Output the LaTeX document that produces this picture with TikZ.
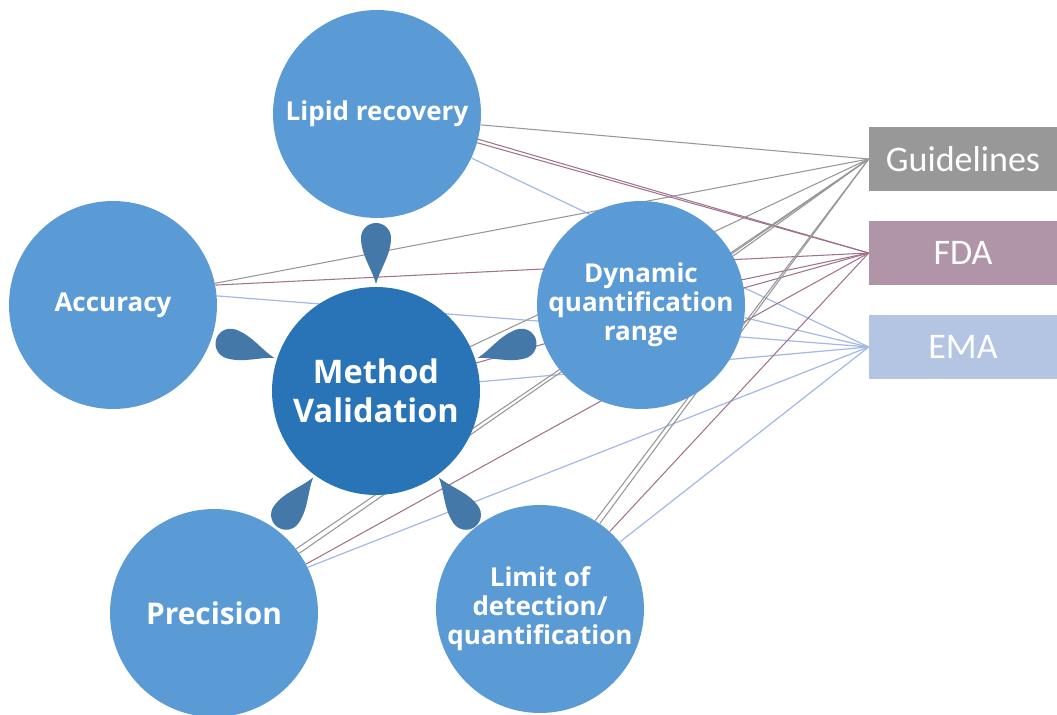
\documentclass[tikz,border=0pt]{standalone}
\usepackage{fontspec}
\setmainfont{Open Sans}
\newfontfamily\tagfont{Carlito}
\definecolor{bubbleblue}{RGB}{91,155,213}
\definecolor{hubblue}{RGB}{40,116,182}
\definecolor{petalblue}{RGB}{68,120,168}
\definecolor{guidegray}{RGB}{152,152,152}
\definecolor{fdamauve}{RGB}{176,148,167}
\definecolor{emablue}{RGB}{180,197,228}
\definecolor{guideline}{RGB}{150,150,150}
\definecolor{fdaline}{RGB}{160,115,140}
\definecolor{emaline}{RGB}{165,185,228}
\pgfdeclarelayer{bg}
\pgfsetlayers{bg,main}
\begin{document}
\begin{tikzpicture}[
            x=0.02cm, y=-0.02cm,
            bubble/.style = {circle, fill=bubbleblue, minimum size=4.16cm, inner sep=0pt, align=center, text=white, font=\fontsize{14.8}{16.6}\selectfont\bfseries},
            hub/.style    = {bubble, fill=hubblue, font=\fontsize{18.5}{22}\selectfont\bfseries},
            tag/.style    = {minimum width=3.76cm, minimum height=1.28cm, inner sep=0pt, text=white, font=\tagfont\fontsize{20.5}{24}\selectfont},
            toguide/.style = {draw=guideline, line width=0.6pt},
            tofda/.style   = {draw=fdaline, line width=0.6pt},
            toema/.style   = {draw=emaline, line width=0.7pt},
        ]
            \useasboundingbox (0,0) rectangle (1057,715);

            \node[hub] (mv) at (376,391) {Method\\Validation};
            \node[bubble] (lipid) at (377,114) {Lipid recovery};
            \node[bubble] (accuracy) at (113,305) {Accuracy};
            \node[bubble] (dynamic) at (641,305) {Dynamic\\quantification\\range};
            \node[bubble, font=\fontsize{17}{19}\selectfont\bfseries] (precision) at (214,613) {Precision};
            \node[bubble] (limit) at (540,609) {Limit of\\detection/\\quantification};

            \node[tag, fill=guidegray] (guide) at (963,159) {Guidelines};
            \node[tag, fill=fdamauve] (fda) at (963,253) {FDA};
            \node[tag, fill=emablue] (ema) at (963,347) {EMA};

            \foreach \a in {90,162,18,234,306}
                \fill[petalblue, shift={(mv.center)}, rotate=\a] (107,0) .. controls (122,4) and (136,15) .. (153,15) arc[start angle=90, end angle=-90, radius=15] .. controls (136,-15) and (122,-4) .. cycle;

            \begin{pgfonlayer}{bg}
                \draw[toguide] (lipid.-6) -- (guide.west);
                \draw[tofda] (lipid.-14) -- (fda.west);
                \draw[tofda] (lipid.-16) -- (fda.west);
                \draw[toema] (lipid.-25) -- (ema.west);

                \draw[toguide] (accuracy.12) -- (guide.west);
                \draw[tofda] (accuracy.11) -- (fda.west);
                \draw[toema] (accuracy.5) -- (ema.west);

                \draw[toguide] (mv.center) -- (guide.west);
                \draw[tofda] (mv.center) -- (fda.west);
                \draw[toema] (mv.center) -- (ema.west);

                \draw[toguide] (dynamic.28) -- (guide.west);
                \draw[tofda] (dynamic.14) -- (fda.west);
                \draw[toema] (dynamic.-7) -- (ema.west);

                \draw[toguide] (precision.38) -- (guide.west);
                \draw[toguide] (precision.35) -- (guide.west);
                \draw[tofda] (precision.28) -- (fda.west);
                \draw[toema] (precision.26) -- (ema.west);

                \draw[toguide] (limit.58) -- (guide.west);
                \draw[toguide] (limit.55) -- (guide.west);
                \draw[tofda] (limit.48) -- (fda.west);
                \draw[toema] (limit.40) -- (ema.west);
            \end{pgfonlayer}
        \end{tikzpicture}
\end{document}
